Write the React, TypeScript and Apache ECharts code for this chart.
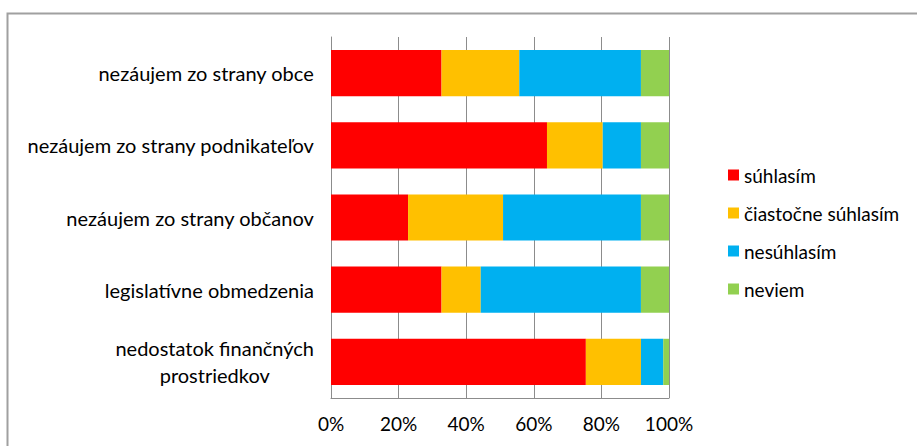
import React, { useEffect, useRef } from "react";
import * as echarts from "echarts";

const categories = [
  "nezáujem zo strany obce",
  "nezáujem zo strany podnikateľov",
  "nezáujem zo strany občanov",
  "legislatívne obmedzenia",
  "nedostatok finančných\nprostriedkov",
];
const seriesNames = ["súhlasím", "čiastočne súhlasím", "nesúhlasím", "neviem"];
const suhlasim = [32.7, 63.9, 22.8, 32.7, 75.4];
const ciastocne = [23.0, 16.5, 28.1, 11.6, 16.3];
const nesuhlasim = [36.0, 11.3, 40.8, 47.4, 6.6];
const neviem = [8.3, 8.3, 8.3, 8.3, 1.7];
const colors = ["#FF0000", "#FFC000", "#00B0F0", "#92D050"];
const xTicks = [0, 20, 40, 60, 80, 100];

const FONT = "Lato";

export default function App() {
  const ref = useRef<HTMLDivElement>(null);
  useEffect(() => {
    if (!ref.current) return;
    const chart = echarts.init(ref.current, null, { renderer: "svg" });
    const values = [suhlasim, ciastocne, nesuhlasim, neviem];
    chart.setOption({
      animation: false,
      color: colors,
      textStyle: { fontFamily: FONT },
      graphic: [
        {
          type: "rect",
          shape: { x: 7.5, y: 13.5, width: 1000, height: 1000 },
          style: { fill: "none", stroke: "#a0a0a0", lineWidth: 2 },
          silent: true,
        },
      ],
      grid: { left: 331, right: 248, top: 37, bottom: 48, containLabel: false },
      legend: {
        orient: "vertical",
        left: 728,
        top: 164,
        padding: 0,
        itemWidth: 11,
        itemHeight: 11,
        itemGap: 16,
        icon: "rect",
        data: seriesNames,
        textStyle: { fontFamily: FONT, fontSize: 19, fontWeight: "normal", color: "#000", lineHeight: 22 },
      },
      xAxis: {
        type: "value",
        min: 0,
        max: 100,
        interval: 20,
        axisLine: { show: true, lineStyle: { color: "#8c8c8c", width: 1 } },
        axisTick: { show: false },
        splitLine: { show: true, lineStyle: { color: "#8c8c8c", width: 1 } },
        axisLabel: {
          fontFamily: FONT,
          fontSize: 19,
          fontWeight: "normal",
          color: "#000",
          margin: 16,
          formatter: (v: number) => (xTicks.includes(v) ? v + "%" : ""),
        },
      },
      yAxis: {
        type: "category",
        inverse: true,
        data: categories,
        axisLine: { show: true, lineStyle: { color: "#8c8c8c", width: 1 } },
        axisTick: { show: false },
        axisLabel: {
          fontFamily: FONT,
          fontSize: 20,
          fontWeight: "normal",
          color: "#000",
          margin: 17,
          formatter: (v: string) =>
            v
              .split("\n")
              .map((s) => "{c|" + s + "}")
              .join("\n"),
          rich: {
            c: { fontFamily: FONT, fontSize: 20, fontWeight: "normal", color: "#000", align: "center", lineHeight: 27 },
          },
        },
      },
      series: seriesNames.map((name, i) => ({
        name,
        type: "bar",
        stack: "total",
        barCategoryGap: "36%",
        data: values[i],
        itemStyle: { color: colors[i] },
      })),
    });
    return () => chart.dispose();
  }, []);
  return (
    <div
      ref={ref}
      style={{ position: "fixed", left: 0, top: 0, width: 917, height: 446, background: "#fff" }}
    />
  );
}
